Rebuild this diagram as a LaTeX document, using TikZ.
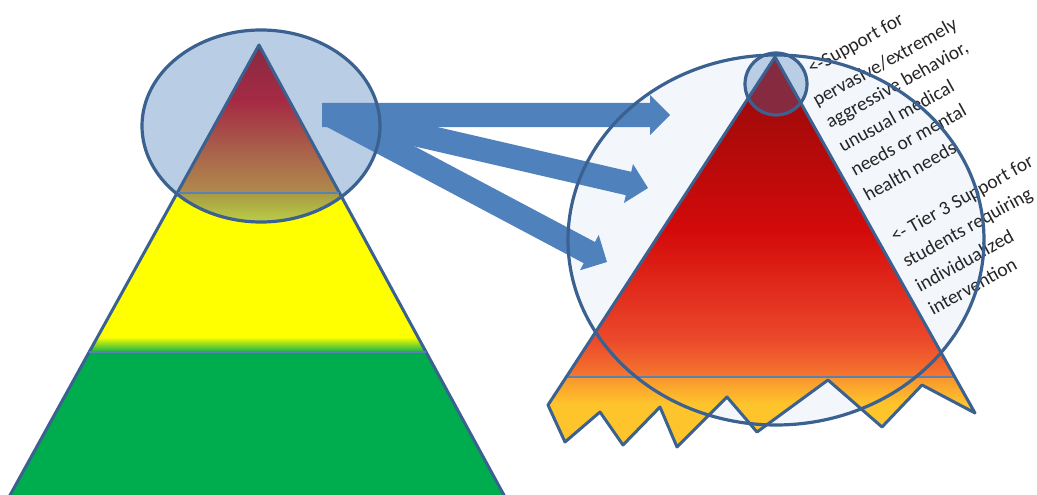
\documentclass[tikz,border=0pt]{standalone}
\usepackage{fontspec}
\setmainfont{Carlito}
\usetikzlibrary{calc}
\definecolor{edge}{HTML}{3B6190}
\definecolor{sepline}{HTML}{5B80B2}
\definecolor{ellfill}{HTML}{B9CDE5}
\definecolor{bigfill}{HTML}{F3F7FB}
\definecolor{arrowblue}{HTML}{4F81BD}
\definecolor{maroonc}{HTML}{862A40}
% left pyramid colours
\definecolor{lA}{RGB}{134,42,64}
\definecolor{lB}{RGB}{166,42,68}
\definecolor{lC}{RGB}{169,96,74}
\definecolor{lD}{RGB}{176,140,76}
\definecolor{lYG}{RGB}{168,208,48}
\definecolor{lG}{RGB}{0,173,78}
\definecolor{lY}{RGB}{255,255,0}
\definecolor{lE1}{RGB}{168,154,68}
\definecolor{lE2}{RGB}{188,210,70}
% right pyramid colours
\definecolor{rA}{RGB}{152,10,16}
\definecolor{rB}{RGB}{168,10,10}
\definecolor{rC}{RGB}{212,10,10}
\definecolor{rD}{RGB}{236,74,44}
\definecolor{rE}{RGB}{245,121,46}
\definecolor{rF}{RGB}{248,149,47}
\definecolor{rG}{RGB}{255,198,43}
\definecolor{rH}{RGB}{254,196,43}
\newcommand{\rtripath}{(775,57) -- (548,405) -- (565,442) -- (600,412) -- (623,445) -- (660,407) -- (677,447) -- (727,397) -- (757,432) -- (828,380) -- (882,427) -- (922,385) -- (975,413) -- cycle}
\begin{document}
\begin{tikzpicture}[x=1pt,y=-1pt,
  outline/.style={draw=edge,line width=3pt,line join=round},
  ellline/.style={draw=edge,line width=3.2pt},
  sep/.style={draw=sepline,line width=1.8pt},
  lbl/.style={anchor=base west,rotate=29,inner sep=0pt,font=\fontsize{19.5}{23}\selectfont,text=black!85},
  blockarrow/.style={fill=arrowblue}]
\useasboundingbox (0,0) rectangle (1037,495);
% ---------- left pyramid ----------
\coordinate (LA) at (259,45);
\coordinate (LR) at (505,497);
\coordinate (LL) at (9,497);
\coordinate (LE) at (261,126);
\fill[ellfill] (LE) ellipse [x radius=119pt, y radius=96pt];
\begin{scope}
\clip (LA) -- (LR) -- (LL) -- cycle;
\shade[top color=lA,bottom color=lB] (0,44) rectangle (520,101);
\shade[top color=lB,bottom color=lC] (0,100) rectangle (520,150);
\shade[top color=lC,bottom color=lD] (0,149) rectangle (520,194);
\fill[lY] (0,193) rectangle (520,338);
\shade[top color=lY,middle color=lYG,bottom color=lG] (0,337) rectangle (520,353);
\fill[lG] (0,352) rectangle (520,499);
\end{scope}
\begin{scope}
\clip (LA) -- (LR) -- (LL) -- cycle;
\clip (LE) ellipse [x radius=119pt, y radius=96pt];
\shade[top color=lE1,bottom color=lE2] (0,193) rectangle (520,224);
\end{scope}
\draw[outline] (LA) -- (LR) -- (LL) -- cycle;
\draw[sep] ($(LA)!0.327!(LL)$) -- ($(LA)!0.327!(LR)$);
\draw[sep] ($(LA)!0.679!(LL)$) -- ($(LA)!0.679!(LR)$);
% ---------- right pyramid ----------
\coordinate (RE) at (776,240);
\coordinate (RA) at (775,57);
\coordinate (RL) at (548,405);
\coordinate (RR) at (975,413);
\coordinate (SC) at (776,84);
\fill[bigfill] (RE) ellipse [x radius=208pt, y radius=185pt];
\begin{scope}
\clip \rtripath;
\shade[top color=rA,bottom color=rB] (540,56) rectangle (990,121);
\shade[top color=rB,bottom color=rC] (540,120) rectangle (990,232);
\shade[top color=rC,bottom color=rD] (540,231) rectangle (990,342);
\shade[top color=rD,bottom color=rE] (540,341) rectangle (990,378);
\shade[top color=rF,bottom color=rG] (540,377) rectangle (990,405);
\fill[rH] (540,404) rectangle (990,452);
\end{scope}
\fill[ellfill] (SC) circle (31pt);
\begin{scope}
\clip (SC) circle (31pt);
\fill[maroonc] (RA) -- (RL) -- (RR) -- cycle;
\end{scope}
\draw[sep] ($(RA)!0.9195!(RL)$) -- ($(RA)!0.899!(RR)$);
\draw[outline] \rtripath;
\draw[ellline] (SC) circle (31pt);
% ---------- arrows ----------
\coordinate (t1) at (322,115); \coordinate (p1) at (670,115);
\coordinate (t2) at (332,115); \coordinate (p2) at (648,188);
\coordinate (t3) at (330,115); \coordinate (p3) at (607,262);
\coordinate (h1) at ($(p1)!20pt!(t1)$);
\coordinate (h2) at ($(p2)!20pt!(t2)$);
\coordinate (h3) at ($(p3)!20pt!(t3)$);
\foreach \i in {1,2,3}{
  \fill[blockarrow] ($(t\i)!12pt!90:(p\i)$) -- ($(h\i)!12pt!90:(p\i)$) -- ($(h\i)!20pt!90:(p\i)$) -- (p\i)
     -- ($(h\i)!20pt!-90:(p\i)$) -- ($(h\i)!12pt!-90:(p\i)$) -- ($(t\i)!12pt!-90:(p\i)$) -- cycle;
}
% ---------- labels ----------
\node[lbl] (l1) at (812,75) {<-Support for};
\node[lbl] (l2) at (817,107) {pervasive/extremely};
\node[lbl] (l3) at (830,129) {aggressive behavior,};
\node[lbl] (l4) at (843,153) {unusual medical};
\node[lbl] (l5) at (855,177) {needs or mental};
\node[lbl] (l6) at (868,202) {health needs};
\node[lbl] (l7) at (895,243) {<- Tier 3 Support for};
\node[lbl] (l8) at (907,268) {students requiring};
\node[lbl] (l9) at (920,293) {individualized};
\node[lbl] (l10) at (933,316) {intervention};
% ---------- ellipse outlines ----------
\draw[ellline] (LE) ellipse [x radius=119pt, y radius=96pt];
\draw[ellline] (RE) ellipse [x radius=208pt, y radius=185pt];
\end{tikzpicture}
\end{document}
